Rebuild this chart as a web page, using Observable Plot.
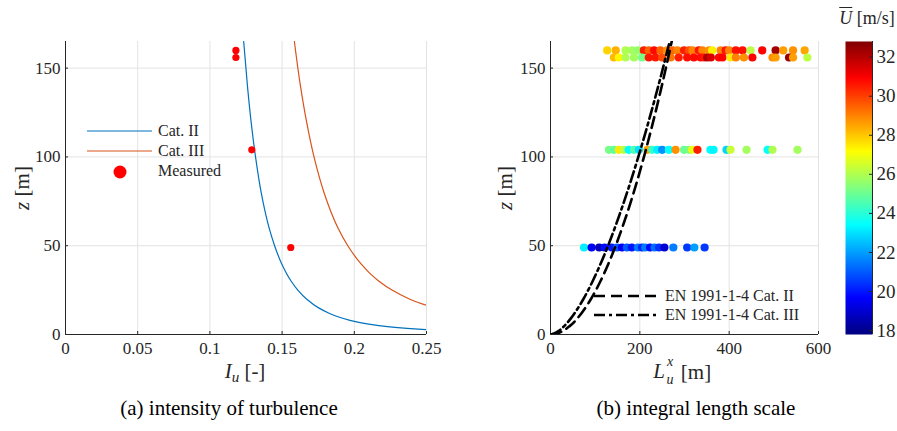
<!DOCTYPE html>
<html><head><meta charset="utf-8">
<script src="https://cdn.jsdelivr.net/npm/d3@7"></script>
<script src="https://cdn.jsdelivr.net/npm/@observablehq/plot@0.6"></script>
<style>
body{margin:0;background:#fff;}
#wrap{position:relative;width:897px;height:431px;overflow:hidden;font-family:"Liberation Serif","Times New Roman",serif;color:#262626;}
#wrap svg, #wrap svg text{font-family:"Liberation Serif","Times New Roman",serif !important;}
.abs{position:absolute;white-space:nowrap;line-height:1;}
.c{transform:translate(-50%,-50%);}
svg{overflow:visible;}
</style></head><body><div id="wrap"></div>
<script>
// ---------- Panel (a): turbulence intensity ----------
const iuTicks = [0, 0.05, 0.1, 0.15, 0.2, 0.25];
const zTicks = [0, 50, 100, 150];
// EN Cat. II curve
const catII_z  = [2.7, 3, 4, 5, 6, 8, 10, 12, 15, 20, 25, 30, 40, 50, 60, 70, 80, 100, 120, 140, 165];
const catII_iu = [0.2507, 0.2442, 0.2282, 0.2171, 0.2089, 0.1970, 0.1887, 0.1825, 0.1753, 0.1669, 0.1609, 0.1563, 0.1496, 0.1448, 0.1410, 0.1380, 0.1355, 0.1316, 0.1285, 0.1260, 0.1234];
// EN Cat. III curve
const catIII_z  = [16.4, 18, 20, 25, 30, 35, 40, 50, 60, 70, 80, 100, 120, 140, 165];
const catIII_iu = [0.2500, 0.2442, 0.2381, 0.2261, 0.2171, 0.2101, 0.2044, 0.1955, 0.1887, 0.1834, 0.1790, 0.1721, 0.1669, 0.1627, 0.1585];
// measured
const measIu = [0.118, 0.118, 0.129, 0.156];
const measZ  = [160, 156, 104, 49];

// ---------- Panel (b): integral length scale ----------
const lTicks = [0, 200, 400, 600];
const uTicks = [18, 20, 22, 24, 26, 28, 30, 32];
const uDomain = [17.8, 32.8];
const enZ     = [0, 0.5, 1, 2, 5, 10, 15, 20, 30, 40, 50, 60, 80, 100, 120, 140, 165];
const enII_L  = [0, 13.3, 19.1, 27.4, 44.1, 63.2, 78.0, 90.6, 111.8, 129.9, 145.9, 160.4, 186.3, 209.2, 230.0, 249.2, 271.4];
const enIII_L = [0, 7.8, 11.8, 18.1, 31.6, 48.3, 61.8, 73.7, 94.3, 112.4, 128.8, 143.9, 171.5, 196.6, 219.7, 241.4, 266.8];

const rowZ = [160, 156, 104, 49];
const row160_L = [127,146,168,183,196,209,220,232,246,261,273,284,299,310,318,332,340,355,362,381,392,400,415,430,448,474,504,521,543,569];
const row160_U = [27.8,28.3,26,25.8,25.6,30.5,29.5,30.8,29.5,28.8,29.5,29,30.5,29.8,29,30.6,29,28.8,27.4,29,30.6,29,30.7,30.7,26.2,30.9,32.3,28.6,28.8,28.5];
const row156_L = [142,153,168,187,205,220,235,250,269,287,306,321,336,344,351,359,377,385,403,415,433,452,497,504,534,543,575];
const row156_U = [28.2,27.3,26,25.8,25.2,30.6,30.6,29.8,29.2,30.5,30.7,30.8,30.8,30.6,32.2,31.5,30.8,30.9,27.5,29,28.8,30.9,28.8,28.6,32.4,28.6,26.2];
const row104_L = [131,142,153,164,175,187,198,217,228,239,250,265,280,299,310,317,329,358,365,394,403,439,486,497,553];
const row104_U = [25.2,24.8,27.5,26.2,23.4,24.6,23,28.5,24.2,23.2,21.8,23.5,28.8,25,25.2,26.8,30.5,23.4,23.3,22.8,26.4,25.8,23.5,26,25.8];
const row49_L  = [75,92,109,121,137,149,160,171,182,196,205,212,223,233,243,255,275,306,322,345];
const row49_U  = [23.2,19.5,18.6,19.8,20,21,19.6,21,20,21.5,20.2,21.5,19.8,21.3,20.4,19,21.5,20.5,22,20.5];

// ---------- build ----------
const wrap = document.getElementById("wrap");
const textColor = "#262626";
const gridColor = "#e3e3e3";
const font = '"Liberation Serif", serif';

function jet(t){
  const c = v => Math.max(0, Math.min(1, v));
  return `rgb(${Math.round(255*c(1.5-Math.abs(4*t-3)))},${Math.round(255*c(1.5-Math.abs(4*t-2)))},${Math.round(255*c(1.5-Math.abs(4*t-1)))})`;
}
function place(el, left, top){ el.style.position="absolute"; el.style.left=left+"px"; el.style.top=top+"px"; wrap.appendChild(el); return el; }
function label(html, x, y, size, extra=""){
  const d = document.createElement("div");
  d.className = "abs c"; d.innerHTML = html;
  d.style.fontSize = size+"px"; d.style.left = x+"px"; d.style.top = y+"px";
  if (extra) d.style.cssText += extra;
  wrap.appendChild(d); return d;
}
const fmt = d => String(+d.toFixed(2));

const leftPlot = Plot.plot({
  width: 450, height: 390,
  marginLeft: 65, marginRight: 24, marginTop: 41, marginBottom: 56,
  style: {fontFamily: font, fontSize: "17px", color: textColor, background: "transparent", overflow: "visible"},
  x: {domain: [0, 0.25], label: null},
  y: {domain: [0, 165], label: null},
  marks: [
    Plot.gridX(iuTicks, {stroke: gridColor, strokeOpacity: 1}),
    Plot.gridY(zTicks, {stroke: gridColor, strokeOpacity: 1}),
    Plot.axisX(iuTicks, {tickSize: -3, tickPadding: 10, tickFormat: fmt, label: null, stroke: textColor, fill: textColor}),
    Plot.axisY(zTicks, {tickSize: -3, tickPadding: 8, label: null, stroke: textColor, fill: textColor}),
    Plot.ruleX([0], {stroke: textColor}),
    Plot.ruleY([0], {stroke: textColor}),
    Plot.line(catII_z, {x: catII_iu, y: catII_z, stroke: "#0072BD", strokeWidth: 1.2, curve: "monotone-y", clip: true}),
    Plot.line(catIII_z, {x: catIII_iu, y: catIII_z, stroke: "#D95319", strokeWidth: 1.2, curve: "monotone-y", clip: true}),
    Plot.dot(measZ, {x: measIu, y: measZ, r: 3.6, fill: "#ff0000", stroke: "none"})
  ]
});
place(leftPlot, 0, 0);

const pts = [];
[[row160_L,row160_U,rowZ[0]],[row156_L,row156_U,rowZ[1]],[row104_L,row104_U,rowZ[2]],[row49_L,row49_U,rowZ[3]]]
  .forEach(([L,U,z]) => L.forEach((l,i) => pts.push({L: l, U: U[i], z})));

const colorScale = {type: "linear", domain: uDomain, interpolate: jet, clamp: true};

const rightPlot = Plot.plot({
  width: 345, height: 390,
  marginLeft: 70, marginRight: 7, marginTop: 41, marginBottom: 56,
  style: {fontFamily: font, fontSize: "17px", color: textColor, background: "transparent", overflow: "visible"},
  x: {domain: [0, 600], label: null},
  y: {domain: [0, 165], label: null},
  color: colorScale,
  marks: [
    Plot.gridX(lTicks, {stroke: gridColor, strokeOpacity: 1}),
    Plot.gridY(zTicks, {stroke: gridColor, strokeOpacity: 1}),
    Plot.axisX(lTicks, {tickSize: -3, tickPadding: 10, label: null, stroke: textColor, fill: textColor}),
    Plot.axisY(zTicks, {tickSize: -3, tickPadding: 8, label: null, stroke: textColor, fill: textColor}),
    Plot.ruleX([0], {stroke: textColor}),
    Plot.ruleY([0], {stroke: textColor}),
    Plot.dot(pts, {x: "L", y: "z", r: 4.1, fill: "U", stroke: "none"}),
    Plot.line(enZ, {x: enII_L, y: enZ, stroke: "#000", strokeWidth: 2.6, strokeDasharray: "11,6", curve: "monotone-y", clip: true}),
    Plot.line(enZ, {x: enIII_L, y: enZ, stroke: "#000", strokeWidth: 2.6, strokeDasharray: "11,4,3,4", curve: "monotone-y", clip: true})
  ]
});
place(rightPlot, 480, 0);

const cbar = Plot.plot({
  width: 62, height: 390,
  marginLeft: 10, marginRight: 25, marginTop: 41, marginBottom: 56,
  style: {fontFamily: font, fontSize: "19px", color: textColor, background: "transparent", overflow: "visible"},
  x: {domain: [0, 1], axis: null},
  y: {domain: uDomain, label: null},
  color: colorScale,
  marks: [
    Plot.raster({fill: (x, y) => y, x1: 0, x2: 1, y1: uDomain[0], y2: uDomain[1], width: 4, height: 300, imageRendering: "auto"}),
    Plot.axisY(uTicks, {anchor: "right", tickSize: -4, tickPadding: 8, label: null, stroke: textColor, fill: textColor}),
    Plot.ruleX([1], {stroke: textColor})
  ]
});
place(cbar, 835, 0);

// axis labels
label('<i>z</i> [m]', 22, 188, 21, "transform:translate(-50%,-50%) rotate(-90deg);");
label('<i>z</i> [m]', 505, 188, 21, "transform:translate(-50%,-50%) rotate(-90deg);");
label('<i>I</i><sub style="font-size:15px;vertical-align:-4px"><i>u</i></sub> [-]', 245, 373, 21);
label('<i>L</i>', 659, 371, 21);
label('<i>x</i>', 670, 362, 14);
label('<i>u</i>', 670, 380, 14);
label('[m]', 696, 372, 21);
label('<span style="text-decoration:overline"><i>U</i></span> [m/s]', 867, 18, 18);

// captions
label('(a) intensity of turbulence', 229, 408, 21, "color:#000;");
label('(b) integral length scale', 696, 408, 21, "color:#000;");

// legend (a)
const legA = document.createElement("div");
legA.className = "abs";
legA.innerHTML = `<svg width="150" height="60" style="position:absolute;left:0;top:0">
<line x1="2" y1="10" x2="67" y2="10" stroke="#0072BD" stroke-width="1.2"/>
<line x1="2" y1="30" x2="67" y2="30" stroke="#D95319" stroke-width="1.2"/>
<circle cx="35" cy="51" r="6.5" fill="#ff0000"/></svg>
<div class="abs" style="left:73px;top:2px;font-size:16px">Cat. II</div>
<div class="abs" style="left:73px;top:22px;font-size:16px">Cat. III</div>
<div class="abs" style="left:73px;top:42px;font-size:16px">Measured</div>`;
legA.style.width = "150px"; legA.style.height = "60px";
place(legA, 85, 121);

// legend (b)
const legB = document.createElement("div");
legB.className = "abs";
legB.innerHTML = `<svg width="80" height="40" style="position:absolute;left:0;top:0">
<line x1="0" y1="6" x2="66" y2="6" stroke="#000" stroke-width="2.6" stroke-dasharray="11,6"/>
<line x1="0" y1="25" x2="66" y2="25" stroke="#000" stroke-width="2.6" stroke-dasharray="11,4,3,4"/></svg>
<div class="abs" style="left:71px;top:-2px;font-size:16px">EN 1991-1-4 Cat. II</div>
<div class="abs" style="left:71px;top:17px;font-size:16px">EN 1991-1-4 Cat. III</div>`;
legB.style.width = "240px"; legB.style.height = "40px";
place(legB, 594, 290);
</script></body></html>
